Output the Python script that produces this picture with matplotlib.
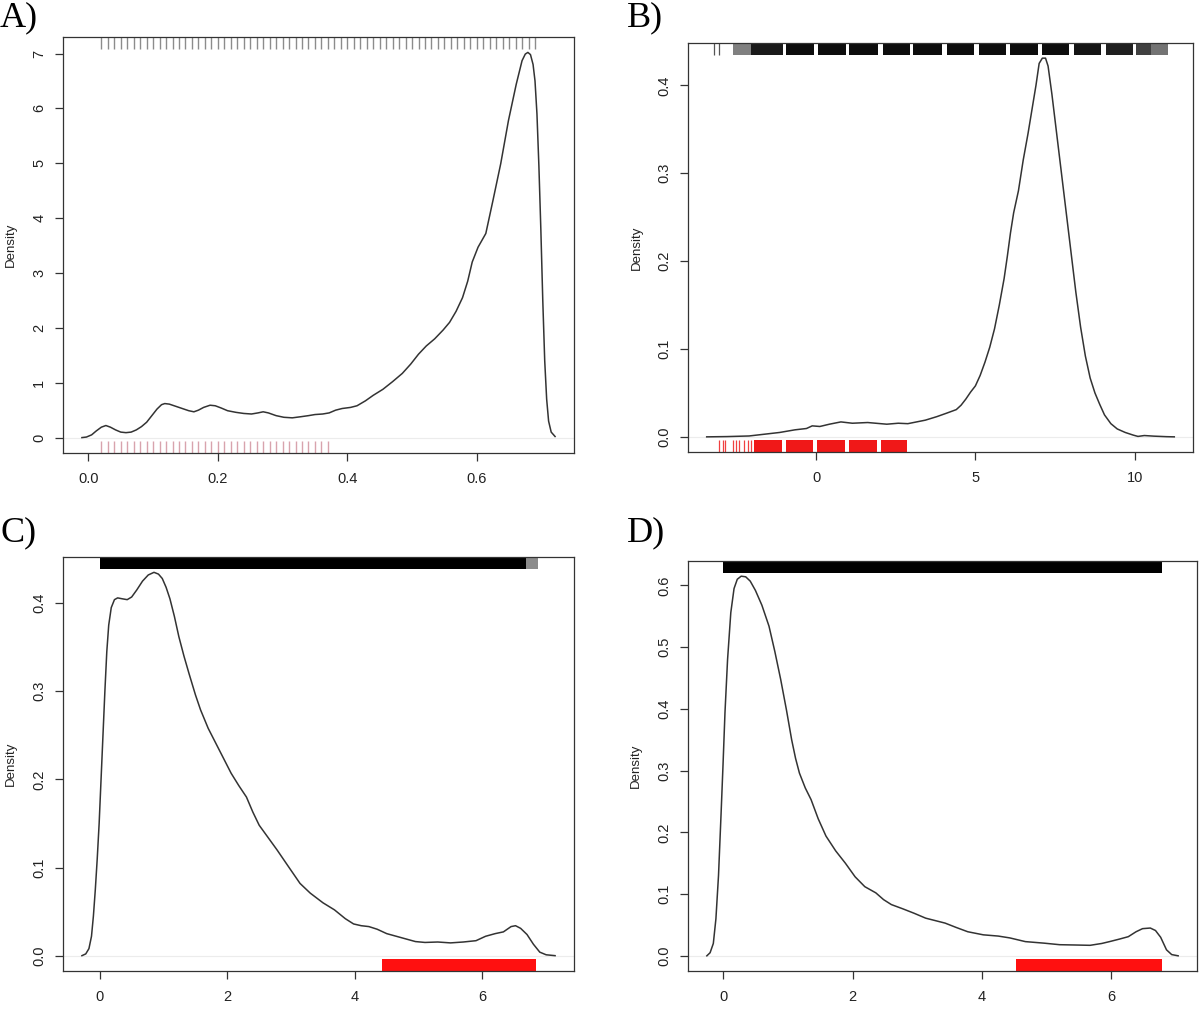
import numpy
import matplotlib
matplotlib.use('Agg')
import matplotlib.pyplot as plt

plt.rcParams['font.family'] = ['Liberation Sans', 'DejaVu Sans']

#=======================================================================================================================
# A) density curve (read off the picture)
a_x = [-0.010, -0.003, 0.005, 0.012, 0.020, 0.027, 0.034, 0.042, 0.050, 0.058, 0.066, 0.074, 0.082, 0.090,
       0.098, 0.106, 0.113, 0.118, 0.125, 0.135, 0.145, 0.155, 0.163, 0.170, 0.178, 0.188, 0.196, 0.205,
       0.215, 0.228, 0.240, 0.252, 0.262, 0.270, 0.278, 0.290, 0.302, 0.315, 0.328, 0.340, 0.350, 0.362,
       0.372, 0.382, 0.392, 0.405, 0.415, 0.428, 0.440, 0.455, 0.470, 0.485, 0.498, 0.510, 0.522, 0.535,
       0.548, 0.558, 0.568, 0.578, 0.586, 0.593, 0.602, 0.614, 0.625, 0.637, 0.649, 0.661, 0.670, 0.675,
       0.679, 0.683, 0.687, 0.690, 0.693, 0.696, 0.699, 0.702, 0.705, 0.708, 0.711, 0.715, 0.721]
a_y = [0.00, 0.01, 0.05, 0.12, 0.19, 0.22, 0.19, 0.14, 0.10, 0.09, 0.10, 0.14, 0.20, 0.28,
       0.40, 0.52, 0.60, 0.62, 0.61, 0.57, 0.53, 0.49, 0.47, 0.50, 0.55, 0.59, 0.58, 0.54,
       0.49, 0.46, 0.44, 0.43, 0.45, 0.47, 0.45, 0.40, 0.37, 0.36, 0.38, 0.40, 0.42, 0.43,
       0.45, 0.50, 0.53, 0.55, 0.58, 0.67, 0.77, 0.88, 1.02, 1.17, 1.34, 1.52, 1.67, 1.80,
       1.96, 2.10, 2.30, 2.55, 2.85, 3.20, 3.47, 3.72, 4.32, 4.99, 5.78, 6.44, 6.87, 6.99,
       7.02, 6.98, 6.80, 6.50, 5.90, 4.95, 3.80, 2.50, 1.40, 0.70, 0.30, 0.10, 0.02]
a_rug_top = [0.02, 0.03, 0.04, 0.05, 0.06, 0.07, 0.08, 0.09, 0.10, 0.11, 0.12, 0.13, 0.14, 0.15, 0.16, 0.17,
             0.18, 0.19, 0.20, 0.21, 0.22, 0.23, 0.24, 0.25, 0.26, 0.27, 0.28, 0.29, 0.30, 0.31, 0.32, 0.33,
             0.34, 0.35, 0.36, 0.37, 0.38, 0.39, 0.40, 0.41, 0.42, 0.43, 0.44, 0.45, 0.46, 0.47, 0.48, 0.49,
             0.50, 0.51, 0.52, 0.53, 0.54, 0.55, 0.56, 0.57, 0.58, 0.59, 0.60, 0.61, 0.62, 0.63, 0.64, 0.65,
             0.66, 0.67, 0.68, 0.69]
a_rug_bottom = [0.02, 0.03, 0.04, 0.05, 0.06, 0.07, 0.08, 0.09, 0.10, 0.11, 0.12, 0.13, 0.14, 0.15, 0.16, 0.17,
                0.18, 0.19, 0.20, 0.21, 0.22, 0.23, 0.24, 0.25, 0.26, 0.27, 0.28, 0.29, 0.30, 0.31, 0.32, 0.33,
                0.34, 0.35, 0.36, 0.37]
a_xticks = [0.0, 0.2, 0.4, 0.6]
a_yticks = [0, 1, 2, 3, 4, 5, 6, 7]

# B)
b_x = [-3.43, -2.80, -2.10, -1.62, -1.14, -0.66, -0.30, -0.12, 0.12, 0.42, 0.78, 1.14, 1.62, 2.22, 2.58, 2.88,
       3.43, 3.79, 4.10, 4.40, 4.55, 4.70, 4.85, 5.00, 5.15, 5.30, 5.45, 5.60, 5.75, 5.90, 6.00, 6.10, 6.20,
       6.35, 6.50, 6.65, 6.80, 6.90, 7.00, 7.10, 7.20, 7.28, 7.40, 7.55, 7.70, 7.85, 8.00, 8.15, 8.30, 8.45,
       8.60, 8.75, 8.90, 9.05, 9.25, 9.45, 9.70, 9.95, 10.10, 10.30, 10.60, 11.00, 11.24]
b_y = [0.0, 0.0003, 0.001, 0.003, 0.005, 0.008, 0.0095, 0.0125, 0.0118, 0.0144, 0.017, 0.0155, 0.0163, 0.0144,
       0.0155, 0.015, 0.019, 0.023, 0.027, 0.031, 0.036, 0.043, 0.051, 0.058, 0.070, 0.085, 0.102, 0.123, 0.150,
       0.180, 0.205, 0.232, 0.255, 0.280, 0.315, 0.345, 0.378, 0.400, 0.425, 0.431, 0.431, 0.422, 0.390, 0.345,
       0.300, 0.255, 0.210, 0.165, 0.125, 0.092, 0.067, 0.050, 0.037, 0.025, 0.015, 0.009, 0.005, 0.002, 0.0005,
       0.0015, 0.0008, 0.0002, 0.0]
b_rug_top = [-3.2, -3.05]
# dense stretches of the rugs: (start, end, grey level)
b_rug_top_spans = [(-2.60, -2.05, 0.5), (-2.05, -1.05, 0.1), (-0.95, -0.05, 0.05), (0.05, 0.95, 0.05),
                   (1.05, 1.95, 0.05), (2.10, 2.95, 0.05), (3.05, 3.95, 0.05), (4.10, 4.95, 0.05),
                   (5.10, 5.95, 0.05), (6.10, 6.95, 0.05), (7.10, 7.95, 0.05), (8.10, 8.95, 0.08),
                   (9.10, 9.95, 0.12), (10.05, 10.50, 0.25), (10.50, 11.05, 0.45)]
b_rug_bottom = [-3.03, -2.93, -2.85, -2.62, -2.52, -2.42, -2.25, -2.15, -2.05]
b_rug_bottom_spans = [(-1.95, -1.08), (-0.95, -0.08), (0.03, 0.90), (1.03, 1.92), (2.04, 2.86)]
b_xticks = [0, 5, 10]
b_yticks = [0.0, 0.1, 0.2, 0.3, 0.4]

# C)
c_x = [-0.28, -0.22, -0.17, -0.13, -0.10, -0.07, -0.04, -0.01, 0.02, 0.05, 0.08, 0.11, 0.14, 0.18, 0.23, 0.28,
       0.35, 0.43, 0.50, 0.58, 0.67, 0.76, 0.85, 0.92, 0.98, 1.04, 1.10, 1.17, 1.24, 1.32, 1.40, 1.50, 1.58,
       1.70, 1.82, 1.94, 2.06, 2.18, 2.30, 2.40, 2.50, 2.64, 2.78, 2.95, 3.14, 3.30, 3.50, 3.68, 3.85, 3.98,
       4.10, 4.22, 4.35, 4.50, 4.65, 4.80, 4.95, 5.10, 5.30, 5.50, 5.70, 5.90, 6.05, 6.20, 6.33, 6.45, 6.52,
       6.60, 6.70, 6.80, 6.90, 7.00, 7.14]
c_y = [0.0, 0.002, 0.008, 0.022, 0.045, 0.075, 0.110, 0.150, 0.200, 0.250, 0.300, 0.345, 0.375, 0.395, 0.404,
       0.406, 0.405, 0.404, 0.407, 0.415, 0.425, 0.432, 0.435, 0.433, 0.428, 0.418, 0.405, 0.385, 0.362, 0.340,
       0.320, 0.296, 0.279, 0.258, 0.241, 0.224, 0.207, 0.193, 0.180, 0.163, 0.148, 0.134, 0.120, 0.102, 0.082,
       0.071, 0.060, 0.052, 0.042, 0.036, 0.034, 0.033, 0.030, 0.025, 0.022, 0.019, 0.016, 0.015, 0.0155,
       0.0145, 0.0155, 0.017, 0.022, 0.025, 0.027, 0.033, 0.034, 0.031, 0.024, 0.013, 0.004, 0.001, 0.0]
c_rug_top_spans = [(0.0, 6.68, 0.0), (6.68, 6.87, 0.55)]
c_rug_bottom_spans = [(4.43, 6.84)]
c_xticks = [0, 2, 4, 6]
c_yticks = [0.0, 0.1, 0.2, 0.3, 0.4]

# D)
d_x = [-0.25, -0.20, -0.15, -0.11, -0.07, -0.03, 0.00, 0.03, 0.07, 0.12, 0.17, 0.22, 0.28, 0.35, 0.42, 0.50,
       0.60, 0.71, 0.80, 0.89, 0.98, 1.06, 1.12, 1.18, 1.27, 1.36, 1.47, 1.59, 1.74, 1.89, 2.04, 2.19, 2.36,
       2.48, 2.60, 2.78, 2.95, 3.13, 3.43, 3.60, 3.78, 4.02, 4.25, 4.43, 4.67, 4.96, 5.20, 5.45, 5.67, 5.85,
       5.97, 6.12, 6.26, 6.38, 6.48, 6.60, 6.68, 6.76, 6.85, 6.93, 7.03]
d_y = [0.0, 0.005, 0.020, 0.060, 0.130, 0.231, 0.310, 0.394, 0.480, 0.556, 0.595, 0.610, 0.615, 0.614, 0.607,
       0.592, 0.568, 0.534, 0.493, 0.448, 0.398, 0.350, 0.320, 0.296, 0.272, 0.253, 0.222, 0.194, 0.170, 0.150,
       0.128, 0.112, 0.102, 0.091, 0.083, 0.076, 0.069, 0.061, 0.053, 0.046, 0.039, 0.034, 0.032, 0.029, 0.023,
       0.0205, 0.018, 0.0175, 0.017, 0.020, 0.023, 0.027, 0.031, 0.039, 0.044, 0.045, 0.041, 0.030, 0.0097,
       0.002, 0.0]
d_rug_top_spans = [(0.0, 6.78, 0.0)]
d_rug_bottom_spans = [(4.52, 6.78)]
d_xticks = [0, 2, 4, 6]
d_yticks = [0.0, 0.1, 0.2, 0.3, 0.4, 0.5, 0.6]

RUG = 0.03  # rug tick length, fraction of plot height (like R rug(ticksize=0.03))


def densityPanel(ax, x, y, xticks, yticks, xfmt, yfmt):
    ax.axhline(0, color='#ececec', lw=0.8, zorder=1)
    ax.plot(x, y, color='#333333', lw=1.1, zorder=3, solid_joinstyle='round')

    # R style limits: data range stretched by 4% on each side
    rx = max(x) - min(x)
    ry = max(y) - min(y)
    ax.set_xlim(min(x) - 0.04 * rx, max(x) + 0.04 * rx)
    ax.set_ylim(min(y) - 0.04 * ry, max(y) + 0.04 * ry)

    ax.set_xticks(xticks)
    ax.set_xticklabels([xfmt % v for v in xticks])
    ax.set_yticks(yticks)
    ax.set_yticklabels([yfmt % v for v in yticks], rotation=90, va='center')
    ax.tick_params(length=6, width=0.9, color='#333333', labelsize=10.5, pad=6, labelcolor='#222222')
    ax.tick_params(axis='x', pad=8)
    for s in ax.spines.values():
        s.set_color('#333333')
        s.set_linewidth(0.9)
    ax.set_ylabel('Density', fontsize=9.5, color='#222222')
    ax.yaxis.set_label_coords(-0.090, 0.5)


def rugTicks(ax, values, side, color, lw=1.0):
    if side == 'top':
        lo, hi = 1 - RUG, 1.0
    else:
        lo, hi = 0.0, RUG
    ax.vlines(values, lo, hi, colors=color, lw=lw, transform=ax.get_xaxis_transform(), zorder=2)


def rugSpans(ax, spans, side, color=None):
    if side == 'top':
        lo, hi = 1 - RUG, 1.0
    else:
        lo, hi = 0.0, RUG
    for sp in spans:
        c = color if color is not None else str(sp[2])
        ax.axvspan(sp[0], sp[1], lo, hi, color=c, lw=0, zorder=2)


fig = plt.figure(figsize=(12, 10.09), dpi=100)

axA = fig.add_axes([63 / 1200, 1 - 453 / 1009, 511 / 1200, 416 / 1009])
axB = fig.add_axes([688 / 1200, 1 - 452 / 1009, 505 / 1200, 409 / 1009])
axC = fig.add_axes([63 / 1200, 1 - 971 / 1009, 511 / 1200, 414 / 1009])
axD = fig.add_axes([688 / 1200, 1 - 971 / 1009, 509 / 1200, 410 / 1009])

densityPanel(axA, a_x, a_y, a_xticks, a_yticks, '%.1f', '%d')
rugTicks(axA, a_rug_top, 'top', '#8c8c8c', lw=1.0)
rugTicks(axA, a_rug_bottom, 'bottom', '#d8a3ad', lw=1.0)

densityPanel(axB, b_x, b_y, b_xticks, b_yticks, '%d', '%.1f')
rugTicks(axB, b_rug_top, 'top', '#555555', lw=0.9)
rugSpans(axB, b_rug_top_spans, 'top')
rugTicks(axB, b_rug_bottom, 'bottom', '#f04040', lw=0.9)
rugSpans(axB, b_rug_bottom_spans, 'bottom', color='#f01818')

densityPanel(axC, c_x, c_y, c_xticks, c_yticks, '%d', '%.1f')
rugSpans(axC, c_rug_top_spans, 'top')
rugSpans(axC, c_rug_bottom_spans, 'bottom', color='#ff1010')

densityPanel(axD, d_x, d_y, d_xticks, d_yticks, '%d', '%.1f')
rugSpans(axD, d_rug_top_spans, 'top')
rugSpans(axD, d_rug_bottom_spans, 'bottom', color='#ff1010')

# panel letters
for lbl, px, py in [('A)', 0, 1), ('B)', 627, 1), ('C)', 0, 516), ('D)', 627, 516)]:
    fig.text(px / 1200, 1 - py / 1009, lbl, ha='left', va='top', fontsize=26,
             family=['Liberation Serif', 'DejaVu Serif'])

fig.savefig('out.png', dpi=100)
